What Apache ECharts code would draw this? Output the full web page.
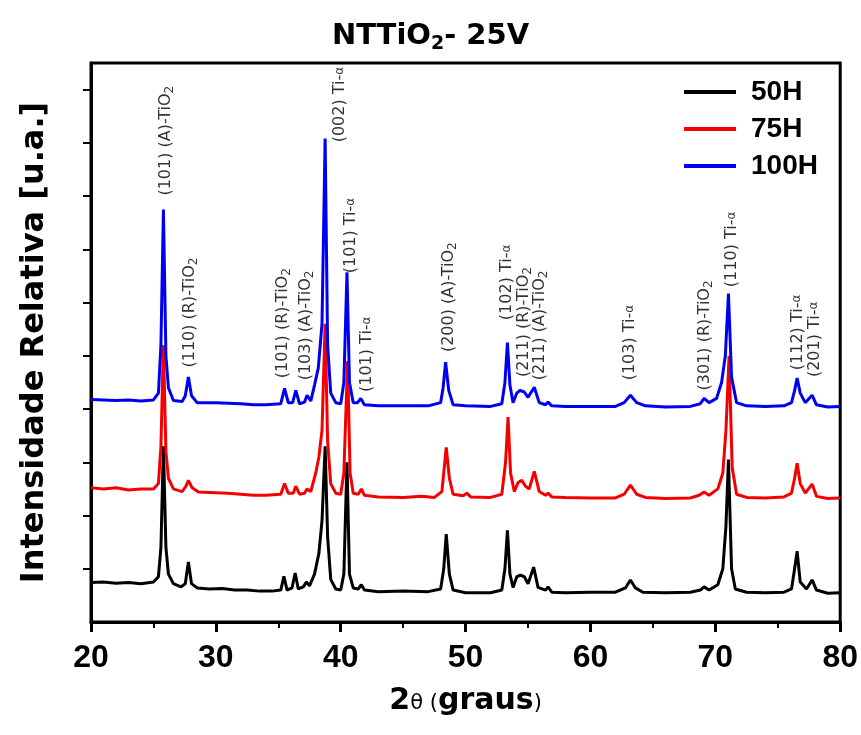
<!DOCTYPE html>
<html>
<head>
<meta charset="utf-8">
<title>NTTiO2 - 25V</title>
<script src="https://cdn.jsdelivr.net/npm/echarts@6/dist/echarts.min.js"></script>
<style>
  * { margin: 0; padding: 0; }
  body { background: #fff; }
</style>
</head>
<body>
<div id="main" style="width: 861px; height: 735px;"></div>
<script>
// 2θ ticks
var xTicks = [20, 30, 40, 50, 60, 70, 80];
var yTicks = [1, 2, 3, 4, 5, 6, 7, 8, 9, 10];
var seriesNames = ['50H', '75H', '100H'];

// curves: [2θ, intensidade (offset, u.a.)]
var h50 = [
  [20,0.74],[21,0.75],[22,0.73],[23,0.74],[24,0.72],[25,0.75],[25.4,0.85],[25.6,1.4],[25.8,3.3],[26.0,1.4],[26.2,0.9],[26.6,0.72],
  [27.2,0.66],[27.55,0.72],[27.8,1.13],[28.05,0.72],[28.5,0.64],[29.5,0.62],[30.5,0.63],[31.5,0.6],[32.5,0.6],[33.5,0.58],[34.5,0.58],
  [35.2,0.6],[35.45,0.86],[35.7,0.6],[36.1,0.64],[36.35,0.92],[36.6,0.62],[37.0,0.66],[37.25,0.75],[37.5,0.68],[37.9,0.9],[38.25,1.29],
  [38.5,1.9],[38.75,3.3],[38.95,1.6],[39.2,0.8],[39.6,0.62],[40.0,0.6],[40.25,0.9],[40.5,3.0],[40.7,0.9],[41.0,0.64],[41.4,0.62],
  [41.65,0.7],[41.9,0.6],[43,0.57],[45,0.58],[47,0.57],[48.0,0.62],[48.25,1.0],[48.45,1.65],[48.7,0.9],[49.0,0.6],[50,0.55],[52,0.55],
  [52.9,0.6],[53.15,1.0],[53.35,1.72],[53.55,0.9],[53.8,0.65],[54.1,0.85],[54.4,0.88],[54.7,0.85],[55.0,0.72],[55.45,1.03],[55.8,0.65],
  [56.4,0.6],[56.6,0.66],[56.9,0.56],[58,0.55],[60,0.56],[62,0.56],[62.8,0.64],[63.2,0.79],[63.6,0.64],[64.2,0.56],[66,0.55],[68,0.56],
  [68.8,0.6],[69.1,0.66],[69.5,0.6],[70.2,0.7],[70.6,1.0],[70.85,1.8],[71.05,3.05],[71.3,1.0],[71.6,0.62],[72.5,0.56],[74,0.55],
  [75.5,0.56],[76.1,0.62],[76.35,1.0],[76.55,1.33],[76.8,0.75],[77.3,0.62],[77.75,0.79],[78.1,0.6],[79,0.54],[80,0.55]
];
var h75 = [
  [20,2.52],[21,2.5],[22,2.52],[23,2.48],[24,2.5],[25,2.5],[25.4,2.6],[25.6,3.3],[25.8,5.2],[26.0,3.2],[26.2,2.7],[26.6,2.5],
  [27.3,2.45],[27.6,2.55],[27.8,2.66],[28.1,2.52],[28.6,2.44],[30,2.43],[31,2.42],[32,2.4],[33,2.38],[34,2.38],[35.2,2.4],[35.5,2.6],
  [35.8,2.42],[36.2,2.42],[36.4,2.55],[36.7,2.4],[37.1,2.42],[37.3,2.5],[37.6,2.45],[38.0,2.8],[38.25,3.1],[38.5,3.6],[38.75,5.6],
  [38.95,3.4],[39.2,2.6],[39.6,2.42],[40.0,2.4],[40.25,2.8],[40.55,4.9],[40.75,2.8],[41.0,2.42],[41.4,2.4],[41.65,2.5],[41.9,2.38],
  [43,2.35],[45,2.34],[46.5,2.36],[47.5,2.34],[48.1,2.45],[48.25,2.8],[48.45,3.28],[48.7,2.7],[49.0,2.4],[49.8,2.37],[50.1,2.42],
  [50.4,2.35],[52,2.34],[52.9,2.4],[53.2,3.0],[53.4,3.85],[53.6,2.8],[53.9,2.45],[54.2,2.62],[54.5,2.66],[54.8,2.55],[55.1,2.5],
  [55.5,2.83],[55.9,2.45],[56.4,2.38],[56.6,2.42],[56.9,2.35],[58,2.34],[60,2.33],[62,2.33],[62.7,2.4],[63.2,2.57],[63.7,2.4],
  [64.4,2.34],[66,2.32],[68,2.33],[68.7,2.38],[69.1,2.44],[69.5,2.38],[70.2,2.5],[70.6,2.8],[70.85,3.6],[71.1,5.0],[71.35,2.9],
  [71.7,2.4],[72.5,2.34],[74,2.33],[75.5,2.35],[76.1,2.42],[76.35,2.7],[76.55,2.98],[76.8,2.6],[77.2,2.42],[77.75,2.59],[78.1,2.36],
  [79,2.32],[80,2.33]
];
var h100 = [
  [20,4.18],[21,4.17],[22,4.16],[23,4.17],[24,4.15],[25,4.17],[25.4,4.3],[25.6,5.2],[25.8,7.75],[26.0,5.0],[26.2,4.4],[26.6,4.16],
  [27.3,4.14],[27.55,4.25],[27.8,4.6],[28.05,4.25],[28.5,4.12],[30,4.12],[31,4.11],[32,4.1],[33,4.08],[34,4.08],[35.2,4.1],[35.5,4.39],
  [35.8,4.12],[36.15,4.12],[36.4,4.35],[36.7,4.1],[37.1,4.13],[37.3,4.26],[37.6,4.15],[37.9,4.45],[38.2,4.77],[38.5,5.6],[38.75,9.08],
  [38.95,5.2],[39.2,4.3],[39.6,4.12],[40.0,4.1],[40.25,4.5],[40.5,6.57],[40.7,4.5],[41.0,4.12],[41.35,4.12],[41.6,4.2],[41.9,4.08],
  [43,4.06],[45,4.06],[47,4.06],[48.0,4.12],[48.2,4.4],[48.4,4.88],[48.65,4.35],[49.0,4.08],[50,4.06],[52,4.05],[52.9,4.1],[53.15,4.5],
  [53.35,5.25],[53.55,4.45],[53.8,4.12],[54.1,4.3],[54.35,4.35],[54.7,4.32],[55.0,4.22],[55.5,4.41],[55.9,4.12],[56.4,4.08],[56.6,4.13],
  [56.9,4.06],[58,4.05],[60,4.05],[62,4.05],[62.7,4.12],[63.2,4.26],[63.7,4.12],[64.4,4.06],[66,4.04],[68,4.05],[68.8,4.1],[69.1,4.2],
  [69.5,4.12],[70.1,4.2],[70.5,4.5],[70.8,5.0],[71.05,6.17],[71.3,4.6],[71.7,4.12],[72.5,4.06],[74,4.05],[75.5,4.06],[76.1,4.12],
  [76.35,4.35],[76.55,4.58],[76.8,4.3],[77.2,4.12],[77.75,4.26],[78.1,4.08],[79,4.04],[80,4.05]
];

// peak labels: anchor (2θ, intensidade) at the start of the rotated text
var peakX = [25.98, 27.9, 35.4, 37.23, 39.95, 40.83, 42.1, 48.64, 53.27, 54.63, 55.91, 63.17, 69.15, 71.31, 76.57, 77.93];
var peakY = [8.01, 4.78, 4.58, 4.54, 9.01, 6.55, 4.32, 5.07, 5.67, 4.6, 4.54, 4.54, 4.35, 6.29, 4.73, 4.6];
var peakText = [
  '(101) (A)-TiO{s|2}', '(110) (R)-TiO{s|2}', '(101) (R)-TiO{s|2}', '(103) (A)-TiO{s|2}',
  '(002) Ti-{g|α}', '(101) Ti-{g|α}', '(101) Ti-{g|α}', '(200) (A)-TiO{s|2}',
  '(102) Ti-{g|α}', '(211) (R)-TiO{s|2}', '(211) (A)-TiO{s|2}', '(103) Ti-{g|α}',
  '(301) (R)-TiO{s|2}', '(110) Ti-{g|α}', '(112) Ti-{g|α}', '(201) Ti-{g|α}'
];

var colors = ['#000000', '#f40000', '#0000f0'];

var chart = echarts.init(document.getElementById('main'));

var peakData = peakX.map(function (x, i) { return [x, peakY[i]]; });

function trace(name, data, color) {
  return {
    name: name,
    type: 'line',
    data: data,
    symbol: 'none',
    smooth: false,
    lineStyle: { color: color, width: 3 },
    itemStyle: { color: color },
    silent: true,
    animation: false
  };
}

chart.setOption({
  animation: false,
  title: {
    text: 'NTTiO{s|2}- 25V',
    left: 'center',
    top: 14,
    textStyle: {
      fontFamily: 'DejaVu Sans',
      fontWeight: 'bold',
      fontSize: 29,
      color: '#000',
      rich: {
        s: { fontFamily: 'DejaVu Sans', fontWeight: 'bold', fontSize: 19, color: '#000', verticalAlign: 'bottom', padding: [16, 0, 0, 0] }
      }
    }
  },
  grid: {
    left: 91, right: 18, top: 63, bottom: 113,
    show: true, borderColor: '#000', borderWidth: 3, backgroundColor: 'transparent'
  },
  legend: {
    data: seriesNames,
    orient: 'vertical',
    left: 684,
    top: 78,
    itemGap: 9,
    itemWidth: 52,
    itemHeight: 4,
    icon: 'rect',
    padding: 0,
    selectedMode: false,
    textStyle: {
      fontFamily: 'Liberation Sans',
      fontWeight: 'bold',
      fontSize: 28,
      color: '#000',
      padding: [0, 0, 0, 10]
    }
  },
  xAxis: {
    type: 'value',
    min: 20,
    max: 80,
    interval: 10,
    name: '{b|2}{t|θ (}{b|graus}{t|)}',
    nameLocation: 'middle',
    nameGap: 64,
    nameTextStyle: {
      rich: {
        b: { fontFamily: 'DejaVu Sans', fontWeight: 'bold', fontSize: 30, color: '#000' },
        t: { fontFamily: 'DejaVu Sans', fontSize: 21, color: '#000', padding: [6, 0, 0, 0] }
      }
    },
    axisLine: { show: true, lineStyle: { color: '#000', width: 3 } },
    axisTick: { show: true, inside: false, length: 10, lineStyle: { color: '#000', width: 3 } },
    minorTick: { show: true, splitNumber: 2, length: 6, lineStyle: { color: '#000', width: 2 } },
    axisLabel: {
      show: true,
      margin: 20,
      fontFamily: 'Liberation Sans',
      fontWeight: 'bold',
      fontSize: 32,
      color: '#000',
      customValues: xTicks
    },
    splitLine: { show: false }
  },
  yAxis: {
    type: 'value',
    min: 0,
    max: 10.5,
    name: 'Intensidade Relativa [u.a.]',
    nameLocation: 'middle',
    nameRotate: 90,
    nameGap: 40,
    nameTextStyle: {
      fontFamily: 'DejaVu Sans',
      fontWeight: 'bold',
      fontSize: 32,
      color: '#000'
    },
    axisLine: { show: true, lineStyle: { color: '#000', width: 3 } },
    axisTick: { show: true, inside: false, length: 8, lineStyle: { color: '#000', width: 2 }, customValues: yTicks },
    axisLabel: { show: false },
    splitLine: { show: false }
  },
  series: [
    trace(seriesNames[0], h50, colors[0]),
    trace(seriesNames[1], h75, colors[1]),
    trace(seriesNames[2], h100, colors[2]),
    {
      type: 'scatter',
      data: peakData,
      symbolSize: 0,
      silent: true,
      z: 5,
      label: {
        show: true,
        position: 'inside',
        rotate: 90,
        align: 'left',
        verticalAlign: 'middle',
        fontFamily: 'DejaVu Sans',
        fontSize: 16,
        color: '#000',
        lineHeight: 20,
        formatter: function (p) { return peakText[p.dataIndex]; },
        rich: {
          s: { fontFamily: 'DejaVu Sans', fontSize: 12, color: '#000', verticalAlign: 'bottom', lineHeight: 12, padding: [6, 0, 0, 0] },
          g: { fontFamily: 'DejaVu Sans', fontSize: 12, color: '#000', lineHeight: 20 }
        }
      }
    }
  ]
});
</script>
</body>
</html>
